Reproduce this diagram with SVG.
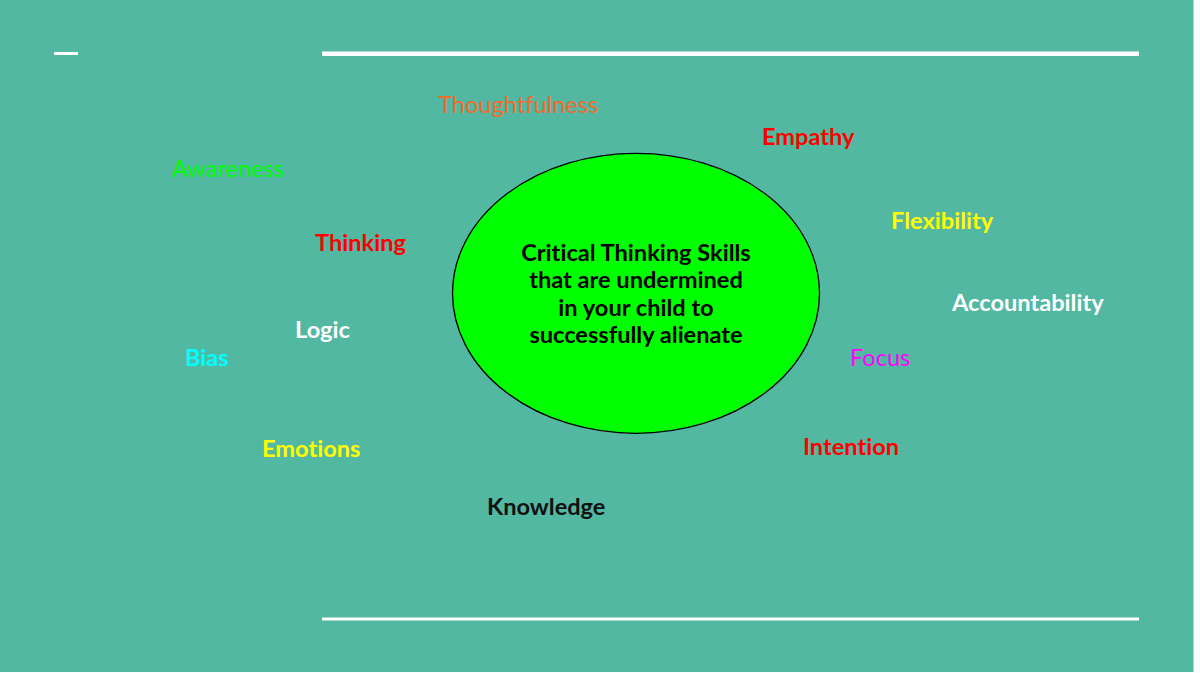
<svg xmlns="http://www.w3.org/2000/svg" width="1200" height="673" viewBox="0 0 1200 673">
<style>
text{font-family:Lato,"Open Sans","Liberation Sans",sans-serif;font-size:23.6px;font-variant-ligatures:none;font-feature-settings:"liga" 0,"clig" 0}
.b{font-weight:bold}
.r{font-weight:normal}
.line{fill:#ffffff}
</style>
<rect x="0" y="0" width="1200" height="673" fill="#fbfcfd"/>
<rect x="0" y="0" width="1194" height="672" fill="#52b8a2"/>
<rect x="1193" y="0" width="1" height="672" fill="#b9cfc9"/>
<g id="decor">
<rect class="line" x="54" y="52" width="24" height="3"/>
<rect class="line" x="322" y="51.5" width="817" height="4.5"/>
<rect class="line" x="322" y="617.5" width="817" height="3"/>
</g>
<g id="center">
<ellipse cx="636" cy="293.3" rx="183.5" ry="140" fill="#00ff00" stroke="#000" stroke-width="1.3"/>
<text class="b" x="636" y="261" text-anchor="middle" fill="#000">Critical Thinking Skills</text>
<text class="b" x="636" y="288" text-anchor="middle" fill="#000">that are undermined</text>
<text class="b" x="636" y="316" text-anchor="middle" fill="#000">in your child to</text>
<text class="b" x="636" y="343" text-anchor="middle" fill="#000">successfully alienate</text>
</g>
<g id="thoughtfulness"><text class="r" x="438" y="113" fill="#f26b2c">Thoughtfulness</text></g>
<g id="empathy"><text class="b" x="762" y="145" fill="#ff0000">Empathy</text></g>
<g id="awareness"><text class="r" x="172" y="177" fill="#00ff00">Awareness</text></g>
<g id="thinking"><text class="b" x="315" y="251" fill="#ff0000">Thinking</text></g>
<g id="flexibility"><text class="b" x="891" y="229" fill="#ffff00">Flexibility</text></g>
<g id="accountability"><text class="b" x="952" y="311" fill="#ffffff">Accountability</text></g>
<g id="logic"><text class="b" x="295" y="338" fill="#ffffff">Logic</text></g>
<g id="bias"><text class="b" x="185" y="366" fill="#00ffff">Bias</text></g>
<g id="focus"><text class="r" x="850" y="366" fill="#ff00ff">Focus</text></g>
<g id="emotions"><text class="b" x="262" y="457" fill="#ffff00">Emotions</text></g>
<g id="intention"><text class="b" x="803" y="455" fill="#ff0000">Intention</text></g>
<g id="knowledge"><text class="b" x="487" y="515" fill="#111111">Knowledge</text></g>
<g id="connectors"></g>
</svg>
